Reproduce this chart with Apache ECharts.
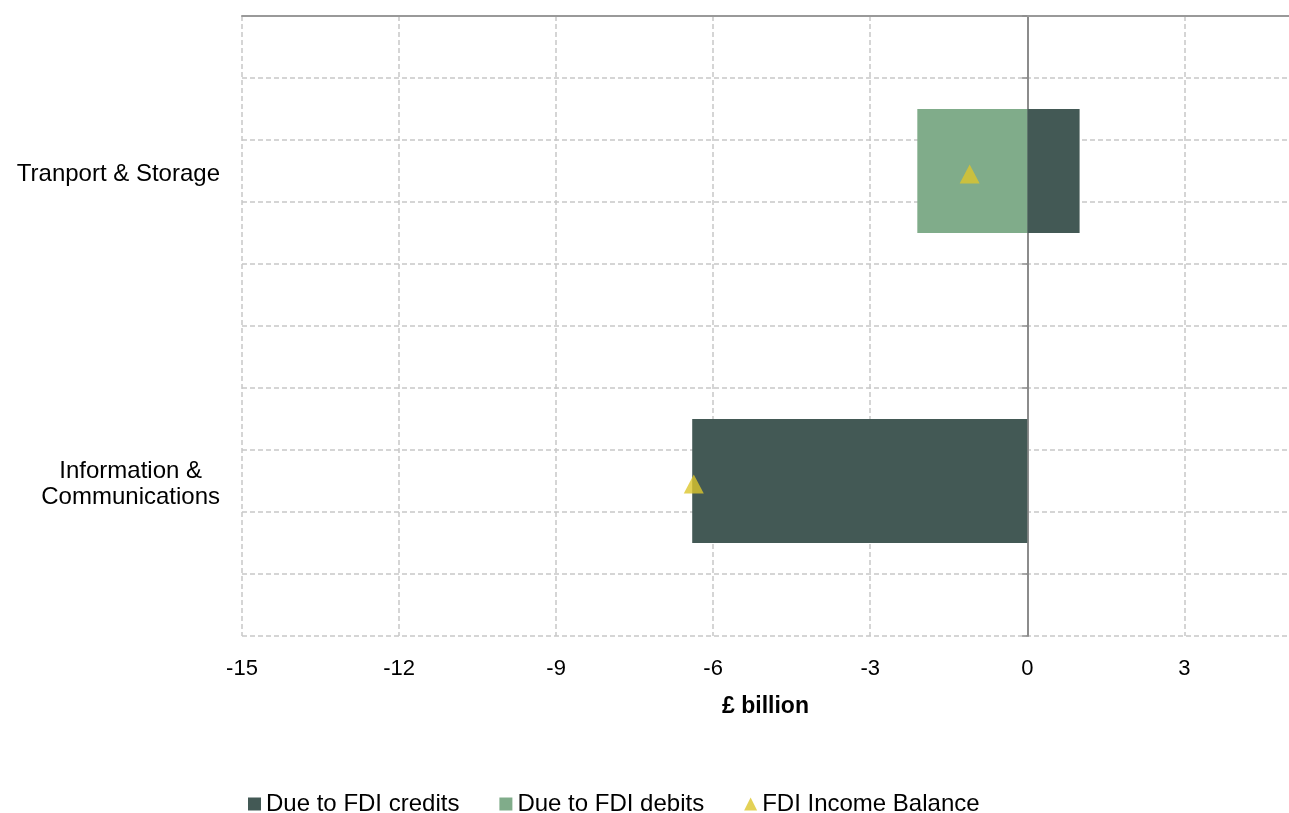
<!DOCTYPE html>
<html>
<head>
<meta charset="utf-8">
<script src="https://cdn.jsdelivr.net/npm/echarts@6/dist/echarts.min.js"></script>
<style>
html,body{margin:0;padding:0;background:#fff;}
#chart{width:1289px;height:813px;}
</style>
</head>
<body>
<div id="chart"></div>
<script>
// Data (bottom to top order of the category axis)
const categories = ['Information & Communications', 'Tranport & Storage'];
const creditsValues = [-6.4, 1.0];
const debitsValues = [0, -2.1];
const balanceValues = [-6.37, -1.1];
const seriesNames = ['Due to FDI credits', 'Due to FDI debits', 'FDI Income Balance'];
const xTicks = { min: -15, max: 5, interval: 3 };
const axisTitle = '£ billion';

const FONT = '"Liberation Sans", Arial, sans-serif';
const chart = echarts.init(document.getElementById('chart'), null, { renderer: 'canvas' });

const labelLines = {
  'Information & Communications': ['Information &', 'Communications']
};

chart.setOption({
  animation: false,
  backgroundColor: '#ffffff',
  textStyle: { fontFamily: FONT },
  grid: { left: 242, right: 0, top: 16, bottom: 177, containLabel: false },
  legend: {
    left: 243,
    top: 787,
    itemWidth: 13,
    itemHeight: 13,
    itemGap: 40,
    textStyle: { fontFamily: FONT, fontSize: 24, color: '#000' },
    data: [
      { name: seriesNames[0], icon: 'rect' },
      { name: seriesNames[1], icon: 'rect' },
      { name: seriesNames[2], icon: 'triangle' }
    ]
  },
  xAxis: [
    {
      type: 'value',
      position: 'bottom',
      min: xTicks.min, max: xTicks.max, interval: xTicks.interval,
      axisLine: { show: false, onZero: false },
      axisTick: { show: false },
      axisLabel: { fontFamily: FONT, fontSize: 22, color: '#000', margin: 22, showMaxLabel: false },
      splitLine: { show: true, showMaxLine: false, lineStyle: { color: '#c8c8c8', type: [5, 3], width: 1.5 } },
      name: axisTitle,
      nameLocation: 'middle',
      nameGap: 59,
      nameTextStyle: { fontFamily: FONT, fontSize: 23, fontWeight: 'bold', color: '#000' }
    },
    {
      type: 'value',
      position: 'top',
      min: xTicks.min, max: xTicks.max, interval: xTicks.interval,
      axisLine: { show: true, onZero: false, lineStyle: { color: '#999999', width: 2 } },
      axisTick: { show: false },
      axisLabel: { show: false },
      splitLine: { show: false }
    }
  ],
  yAxis: [
    {
      type: 'category',
      data: categories,
      position: 'left',
      axisLine: { show: false, onZero: false },
      axisTick: { show: false },
      splitLine: { show: false },
      axisLabel: {
        margin: 22,
        align: 'right',
        fontFamily: FONT,
        fontSize: 24,
        color: '#000',
        lineHeight: 26,
        padding: [7, 0, 0, 0],
        formatter: function (v) {
          const lines = labelLines[v] || [v];
          return lines.map(l => '{c|' + l + '}').join('\n');
        },
        rich: {
          c: { align: 'center', fontFamily: FONT, fontSize: 24, color: '#000', lineHeight: 26 }
        }
      }
    },
    {
      type: 'value',
      position: 'left',
      min: 0, max: 10, interval: 1,
      axisLine: { show: true, onZero: true, lineStyle: { color: '#8c8c8c', width: 2 } },
      axisTick: { show: true, length: 5, lineStyle: { color: '#8c8c8c', width: 1.5 } },
      axisLabel: { show: false },
      splitLine: { show: true, lineStyle: { color: '#c8c8c8', type: [5, 3], width: 1.5 } }
    }
  ],
  series: [
    {
      name: seriesNames[0],
      type: 'bar',
      stack: 'fdi',
      xAxisIndex: 0, yAxisIndex: 0,
      barWidth: '40%',
      itemStyle: { color: '#435955' },
      data: creditsValues,
      z: 1
    },
    {
      name: seriesNames[1],
      type: 'bar',
      stack: 'fdi',
      xAxisIndex: 0, yAxisIndex: 0,
      barWidth: '40%',
      itemStyle: { color: '#80AC8A' },
      data: debitsValues,
      z: 1
    },
    {
      name: seriesNames[2],
      type: 'scatter',
      xAxisIndex: 0, yAxisIndex: 0,
      symbol: 'triangle',
      symbolSize: [20, 19],
      symbolOffset: [0, 3],
      itemStyle: { color: '#DCC52C' },
      data: balanceValues.map((v, i) => [v, categories[i]]),
      z: 5
    }
  ]
});
</script>
</body>
</html>
